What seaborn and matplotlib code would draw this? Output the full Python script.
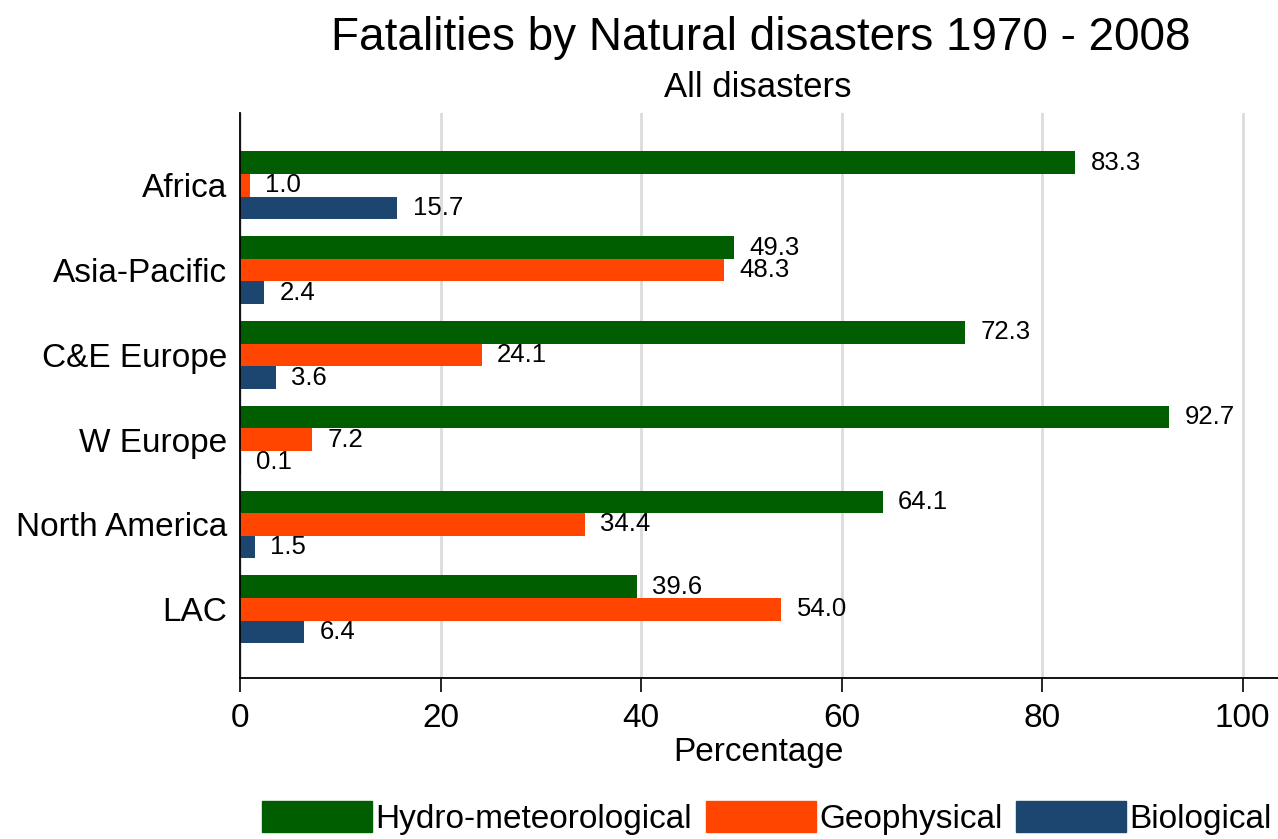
import pandas as pd
import matplotlib.pyplot as plt
import seaborn as sns

regions = ['Africa', 'Asia-Pacific', 'C&E Europe', 'W Europe', 'North America', 'LAC']
hydro = [83.3, 49.3, 72.3, 92.7, 64.1, 39.6]
geo = [1.0, 48.3, 24.1, 7.2, 34.4, 54.0]
bio = [15.7, 2.4, 3.6, 0.1, 1.5, 6.4]
types = ['Hydro-meteorological', 'Geophysical', 'Biological']
colors = ['#005e00', '#ff4500', '#1c4670']

df = pd.DataFrame({'Region': regions * 3,
                   'Type': [t for t in types for _ in regions],
                   'Value': hydro + geo + bio})

sns.set_style('white')
plt.rcParams['font.family'] = ['Liberation Sans', 'DejaVu Sans']
plt.rcParams['text.color'] = 'black'
plt.rcParams['xtick.color'] = 'black'
plt.rcParams['ytick.color'] = 'black'
plt.rcParams['axes.labelcolor'] = 'black'

fig = plt.figure(figsize=(12.78, 8.39), dpi=100)
ax = fig.add_axes([0.1878, 0.192, 0.812, 0.673])

sns.barplot(data=df, x='Value', y='Region', hue='Type', order=regions,
            hue_order=types, palette=colors, orient='h', width=0.8,
            saturation=1, edgecolor='none', legend=False, ax=ax)

for cont in ax.containers:
    ax.bar_label(cont, fmt='%.1f', padding=11, fontsize=18.5)

ax.set_xlim(0, 103.5)
ax.set_ylim(5.81, -0.85)
ax.set_xticks([0, 20, 40, 60, 80, 100])
ax.grid(axis='x', color='#dcdcdc', linewidth=2)
ax.set_axisbelow(True)
for s in ['top', 'right']:
    ax.spines[s].set_visible(False)
for s in ['left', 'bottom']:
    ax.spines[s].set_color('black')
    ax.spines[s].set_linewidth(1.3)
ax.tick_params(axis='x', bottom=True, length=10, width=1.2, labelsize=24, pad=8)
ax.tick_params(axis='y', left=False, length=0, labelsize=24, pad=9)
ax.set_xlabel('Percentage', fontsize=24, labelpad=2)
ax.set_ylabel('')

fig.text(0.595, 0.955, 'Fatalities by Natural disasters 1970 - 2008',
         ha='center', va='center', fontsize=33)
fig.text(0.593, 0.896, 'All disasters', ha='center', va='center', fontsize=25)

handles = [plt.Rectangle((0, 0), 1, 1, color=c) for c in colors]
fig.legend(handles, types, loc='center', bbox_to_anchor=(0.600, 0.025), ncol=3,
           frameon=False, fontsize=24, handlelength=3.3, handleheight=1.05,
           handletextpad=0.1, columnspacing=0.4, borderaxespad=0)

fig.savefig('out.png', dpi=100)
